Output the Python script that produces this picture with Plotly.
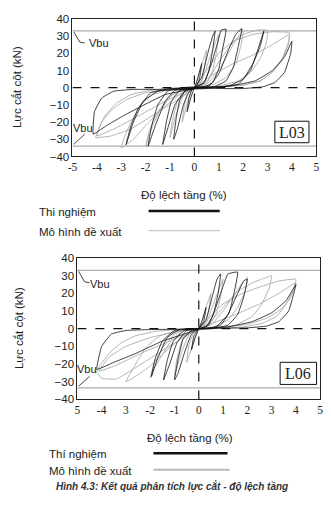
import plotly.graph_objects as go

# ---------------- data ----------------
x_ticks = [-5, -4, -3, -2, -1, 0, 1, 2, 3, 4, 5]
x_ticktext_top = ["-5", "-4", "-3", "-2", "-1", "0", "1", "2", "3", "4", "5"]
x_ticktext_bot = ["5", "-4", "3", "-2", "-1", "0", "1", "2", "3", "4", "5"]
y_ticks = [-40, -30, -20, -10, 0, 10, 20, 30, 40]

L03_vbu_pos = 33.0
L03_vbu_neg = -34.0
L06_vbu_pos = 33.0
L06_vbu_neg = -33.5

L03_exp_x = [0, 0.15, 0.3, 0.22, 0.1, 0, -0.15, -0.3, -0.22, -0.1, 0,
             0.3, 0.55, 0.75, 0.85, 0.75, 0.6, 0.4, 0.1, -0.2, -0.45, -0.7, -0.85, -0.75, -0.6, -0.35, 0,
             0.4, 0.7, 0.95, 1.1, 1.3, 1.15, 1.0, 0.75, 0.4, 0, -0.4, -0.8, -1.1, -1.3, -1.15, -0.95, -0.6, 0,
             0.6, 1.0, 1.4, 1.7, 1.95, 1.8, 1.6, 1.3, 0.8, 0, -0.8, -1.2, -1.6, -1.9, -1.75, -1.5, -1.1, -0.5, 0,
             1.0, 1.8, 2.3, 2.6, 2.85, 2.7, 2.4, 2.0, 1.4, 0.5, -0.5, -1.5, -2.1, -2.5, -2.8, -2.6, -2.3, -1.8, -1.0, 0,
             1.0, 2.0, 2.8, 3.3, 3.7, 3.95, 4.0, 3.7, 3.2, 2.5, 1.5, 0.5, -0.5, -1.5, -2.5, -3.3, -3.8, -4.1, -4.15,
             -3.6, -3.0, -2.2, -1.2, 0]
L03_exp_y = [0, 6, 14, 6, 1, 0, -6, -14, -6, -1, 0,
             6, 20, 30, 33, 22, 10, 3, 0.5, -2, -10, -24, -30, -18, -7, -1.5, 0,
             3, 14, 26, 33.5, 34, 22, 11, 3, 0.5, -0.5, -2, -10, -24, -33, -20, -8, -1.5, 0,
             1, 8, 22, 31, 34.5, 24, 12, 4, 0.5, -0.5, -1.5, -8, -22, -34, -22, -10, -2, 0, 0.5,
             0.5, 2, 10, 22, 33, 24, 14, 5, 1, -0.5, -1, -2, -8, -20, -33, -22, -12, -3, -0.5, 0,
             -0.5, -0.5, 0.5, 3, 9, 20, 27, 18, 10, 4, 1, 0, -0.5, -1, -1, -2, -6, -14, -27,
             -22, -17, -11, -4, 0]

L03_model_x = [0, 0.25, 0.5, 0.42, 0.3, 0.1, -0.1, -0.3, -0.5, -0.42, -0.3, -0.1, 0,
               0.3, 0.6, 0.85, 1.0, 0.9, 0.75, 0.5, 0.2, -0.2, -0.5, -0.8, -1.0, -0.9, -0.7, -0.4, 0,
               0.5, 1.0, 1.4, 1.7, 2.0, 1.9, 1.7, 1.3, 0.8, 0.3, -0.3, -0.9, -1.4, -1.8, -2.0, -1.85, -1.5, -1.0, -0.5, 0,
               0.5, 1.0, 1.5, 2.0, 2.6, 3.0, 2.95, 2.7, 2.3, 1.8, 1.0, 0, -1.0, -1.7, -2.2, -2.6, -2.85, -3.0,
               -2.5, -2.0, -1.3, -0.6, 0,
               0.4, 1.0, 1.6, 2.4, 3.2, 3.9, 3.85, 3.6, 3.2, 2.7, 2.0, 1.0, 0,
               -1.0, -1.8, -2.6, -3.2, -3.7, -4.0, -3.3, -2.5, -1.6, -0.8, 0,
               0.8, 1.6, 2.4, 3.2, 3.9, 3.85, 3.6, 3.2, 2.7, 2.0, 1.0, 0,
               -1.0, -2.0, -2.8, -3.4, -3.8, -4.05, -3.4, -2.6, -1.7, -0.8, 0]
L03_model_y = [0, 11, 22, 12, 4, 0.5, -1, -9, -20, -11, -3, 0, 0,
               4, 16, 26, 31, 20, 10, 3, 0.5, -1, -6, -18, -29, -19, -8, -2, 0,
               2, 10, 20, 28, 33, 24, 14, 6, 2, 0.5, -1, -4, -13, -25, -34.5, -25, -14, -5, -1, 0,
               3, 15, 25, 31, 33.5, 33.5, 26, 17, 9, 4, 1, 0, -1, -4, -10, -20, -28, -35,
               -30, -22, -12, -4, 0,
               8, 20, 27, 31, 32.5, 32, 26, 17, 9, 4, 1.5, 0.5, 0,
               -0.5, -1.5, -4, -9, -17, -28, -24, -18, -11, -5, 0,
               8, 14, 19, 25, 31, 25, 16, 9, 4, 1.5, 0.5, 0,
               -1, -3, -7, -13, -20, -29, -28, -24, -16, -8, 0]

L06_exp_x = [0, 0.15, 0.3, 0.2, 0, -0.15, -0.3, -0.2, 0,
             0.3, 0.55, 0.75, 0.9, 0.8, 0.6, 0.3, 0, -0.3, -0.6, -0.85, -1.0, -0.85, -0.65, -0.3, 0,
             0.4, 0.7, 1.0, 1.2, 1.6, 1.45, 1.25, 0.9, 0.4, 0, -0.5, -0.9, -1.2, -1.45, -1.3, -1.05, -0.6, 0,
             0.7, 1.2, 1.6, 1.85, 2.0, 1.85, 1.6, 1.2, 0.6, 0, -0.8, -1.3, -1.7, -1.95, -1.8, -1.5, -1.0, 0,
             1.0, 2.0, 2.8, 3.3, 3.7, 4.0, 3.6, 3.0, 2.2, 1.2, 0,
             -1.0, -2.0, -3.0, -3.6, -4.0, -4.2, -3.5, -2.6, -1.5, 0]
L06_exp_y = [0, 5, 12, 4, 0, -5, -12, -4, 0,
             5, 18, 28, 31, 20, 8, 1, 0, -3, -14, -25, -29, -17, -6, -1, 0,
             2, 12, 24, 31, 32, 20, 9, 2, 0, -0.3, -1, -8, -20, -29, -18, -7, -1, 0,
             1, 8, 20, 27, 28, 18, 8, 2, 0.3, 0, -0.5, -5, -17, -27, -17, -7, -1, 0,
             0.3, 0.5, 1.5, 4, 10, 25, 16, 9, 4, 1, 0,
             -0.3, -0.5, -1, -3, -10, -23, -19, -14, -7, 0]

L06_model_x = [0, 0.25, 0.5, 0.4, 0.2, 0, -0.25, -0.5, -0.4, -0.2, 0,
               0.3, 0.6, 0.85, 1.0, 0.9, 0.7, 0.4, 0, -0.4, -0.7, -0.9, -1.0, -0.9, -0.7, -0.4, 0,
               0.5, 1.0, 1.5, 1.8, 2.0, 1.9, 1.6, 1.2, 0.6, 0, -0.6, -1.1, -1.6, -1.9, -2.0, -1.85, -1.5, -1.0, -0.4, 0,
               0.5, 1.0, 1.6, 2.2, 2.6, 3.0, 2.9, 2.6, 2.2, 1.5, 0.7, 0,
               -0.8, -1.6, -2.2, -2.6, -3.0, -2.6, -2.0, -1.3, -0.6, 0,
               0.4, 1.0, 1.8, 2.6, 3.3, 4.0, 3.9, 3.6, 3.2, 2.6, 1.8, 0.9, 0,
               -0.9, -1.8, -2.6, -3.2, -3.7, -4.2, -4.0, -3.4, -2.6, -1.8, -1.0, 0,
               1.5, 2.5, 3.3, 4.0, 3.8, 3.4, 2.8, 2.0, 1.0, 0,
               -1.0, -2.0, -3.0, -3.7, -4.1, -3.3, -2.4, -1.2, 0]
L06_model_y = [0, 10, 20, 10, 2, 0, -9, -19, -9, -2, 0,
               3, 14, 23, 28, 18, 8, 2, 0, -3, -13, -22, -27, -17, -7, -1, 0,
               2, 10, 20, 26, 29, 21, 12, 5, 1, 0, -1, -6, -17, -24, -28, -20, -11, -3, 0, 0,
               4, 12, 21, 26, 28, 30, 23, 14, 7, 2, 0.5, 0,
               -1, -4, -11, -20, -30, -27, -21, -12, -4, 0,
               6, 14, 20, 24, 27, 28, 22, 14, 7, 3, 1, 0.3, 0,
               -0.5, -1.5, -4, -8, -14, -24, -28, -28.5, -22, -15, -8, 0,
               8, 14, 20, 26, 18, 11, 6, 2.5, 0.8, 0,
               -2, -5, -10, -16, -24, -20, -14, -7, 0]

BLACK = "#111111"
GRAY = "#ababab"

fig = go.Figure()

def add_panel(xa, ya, ex, ey, mx, my, vp, vn):
    fig.add_trace(go.Scatter(x=[-5, 5], y=[vp, vp], mode="lines", xaxis=xa, yaxis=ya,
                             line=dict(color=GRAY, width=1.2), showlegend=False, hoverinfo="skip"))
    fig.add_trace(go.Scatter(x=[-5, 5], y=[vn, vn], mode="lines", xaxis=xa, yaxis=ya,
                             line=dict(color=GRAY, width=1.2), showlegend=False, hoverinfo="skip"))
    fig.add_trace(go.Scatter(x=mx, y=my, mode="lines", xaxis=xa, yaxis=ya,
                             line=dict(color=GRAY, width=0.9, shape="spline", smoothing=0.3),
                             showlegend=False, name="Mô hình đề xuất"))
    fig.add_trace(go.Scatter(x=ex, y=ey, mode="lines", xaxis=xa, yaxis=ya,
                             line=dict(color=BLACK, width=0.8, shape="spline", smoothing=0.3),
                             showlegend=False, name="Thí nghiệm"))

add_panel("x", "y", L03_exp_x, L03_exp_y, L03_model_x, L03_model_y, L03_vbu_pos, L03_vbu_neg)
add_panel("x2", "y2", L06_exp_x, L06_exp_y, L06_model_x, L06_model_y, L06_vbu_pos, L06_vbu_neg)

# the page body has an 8px margin; positions below are page pixels
OFF = 8
W, H = 331 - OFF, 505 - OFF
def px(x): return (x - OFF) / W
def py(y): return 1 - (y - OFF) / H

ytick_font = dict(family="Liberation Sans, Arial", size=11.5, color="#222")
xtick_font = dict(family="Liberation Serif, Times New Roman", size=11.5, color="#222")

axis_common = dict(showgrid=False, zeroline=False, showline=True, linecolor="#222",
                   linewidth=1, mirror=True, ticks="")

fig.update_layout(
    width=W, height=H, margin=dict(l=0, r=0, t=0, b=0),
    paper_bgcolor="white", plot_bgcolor="white", showlegend=False,
    xaxis=dict(domain=[px(69), px(319)], range=[-5, 5], anchor="y",
               tickvals=x_ticks, ticktext=x_ticktext_top, tickfont=xtick_font, **axis_common),
    yaxis=dict(domain=[py(154), py(13)], range=[-40, 40], anchor="x",
               tickvals=y_ticks, tickfont=ytick_font, **axis_common),
    xaxis2=dict(domain=[px(74), px(323)], range=[-5, 5], anchor="y2",
                tickvals=x_ticks, ticktext=x_ticktext_bot, tickfont=xtick_font, **axis_common),
    yaxis2=dict(domain=[py(403), py(258)], range=[-40, 40], anchor="x2",
                tickvals=y_ticks, tickfont=ytick_font, **axis_common),
)

shapes = []
for xr, yr in (("x", "y"), ("x2", "y2")):
    shapes.append(dict(type="line", xref=xr, yref=yr, x0=0, x1=0, y0=-40, y1=40,
                       line=dict(color=BLACK, width=1.2, dash="dash"), layer="above"))
    shapes.append(dict(type="line", xref=xr, yref=yr, x0=-5, x1=5, y0=0, y1=0,
                       line=dict(color=BLACK, width=1.2, dash="dash"), layer="above"))

# Vbu leader lines
shapes += [
    dict(type="path", xref="x", yref="y", path="M -4.95 32.5 L -4.7 26.5 L -4.5 26",
         line=dict(color=BLACK, width=0.8)),
    dict(type="path", xref="x", yref="y", path="M -4.5 -27 L -4.95 -33",
         line=dict(color=BLACK, width=0.8)),
    dict(type="path", xref="x2", yref="y2", path="M -4.95 32.5 L -4.7 26.5 L -4.5 26",
         line=dict(color=BLACK, width=0.8)),
    dict(type="path", xref="x2", yref="y2", path="M -4.5 -27 L -4.95 -32.5",
         line=dict(color=BLACK, width=0.8)),
]
# label boxes
shapes += [
    dict(type="rect", xref="x", yref="y", x0=3.3, x1=4.7, y0=-32, y1=-19.5,
         line=dict(color=BLACK, width=1), fillcolor="white", layer="above"),
    dict(type="rect", xref="x2", yref="y2", x0=3.35, x1=4.85, y0=-31.5, y1=-19,
         line=dict(color=BLACK, width=1), fillcolor="white", layer="above"),
]
# legend sample lines
shapes += [
    dict(type="line", xref="paper", yref="paper", x0=px(147), x1=px(220), y0=py(210), y1=py(210),
         line=dict(color=BLACK, width=2.5)),
    dict(type="line", xref="paper", yref="paper", x0=px(147), x1=px(220), y0=py(230), y1=py(230),
         line=dict(color="#c8c8c8", width=1.2)),
    dict(type="line", xref="paper", yref="paper", x0=px(152), x1=px(228), y0=py(458), y1=py(458),
         line=dict(color=BLACK, width=2.5)),
    dict(type="line", xref="paper", yref="paper", x0=px(152), x1=px(230), y0=py(475), y1=py(475),
         line=dict(color="#b8b8b8", width=2)),
]
fig.update_layout(shapes=shapes)

sans = "Liberation Sans, Arial"
serif = "Liberation Serif, Times New Roman"
ann = []
def A(text, x, y, size, family=sans, xanchor="center", angle=0, xref="paper", yref="paper", color="#222"):
    ann.append(dict(text=text, x=x, y=y, xref=xref, yref=yref, showarrow=False,
                    xanchor=xanchor, yanchor="middle", textangle=angle,
                    font=dict(family=family, size=size, color=color)))

A("Lực cắt cột (kN)", px(12), py(83), 11.5, angle=-90)
A("Lực cắt cột (kN)", px(14), py(330), 11.5, angle=-90)
A("Độ lệch tầng (%)", px(183), py(193), 11.5)
A("Độ lệch tầng (%)", px(189), py(443), 11.5)
A("Thi nghiệm", px(33), py(211), 11.5, xanchor="left")
A("Mô hình đề xuất", px(33), py(231), 11.5, xanchor="left")
A("Thí nghiệm", px(43), py(459), 11.5, xanchor="left")
A("Mô hình đề xuất", px(43), py(476), 11.5, xanchor="left")
A("<b><i>Hình 4.3: Kết quả phân tích lực cắt - độ lệch tầng</i></b>", px(171), py(492), 10, color="#333")
A("Vbu", -3.9, 26, 11, xref="x", yref="y")
A("Vbu", -4.55, -23.5, 11, xref="x", yref="y")
A("Vbu", -4.05, 25, 11, xref="x2", yref="y2")
A("Vbu", -4.6, -22.5, 11, xref="x2", yref="y2")
A("L03", 4.0, -25.8, 16, family=serif, xref="x", yref="y")
A("L06", 4.1, -25.2, 16, family=serif, xref="x2", yref="y2")
fig.update_layout(annotations=ann)

fig.write_html("out.html")
